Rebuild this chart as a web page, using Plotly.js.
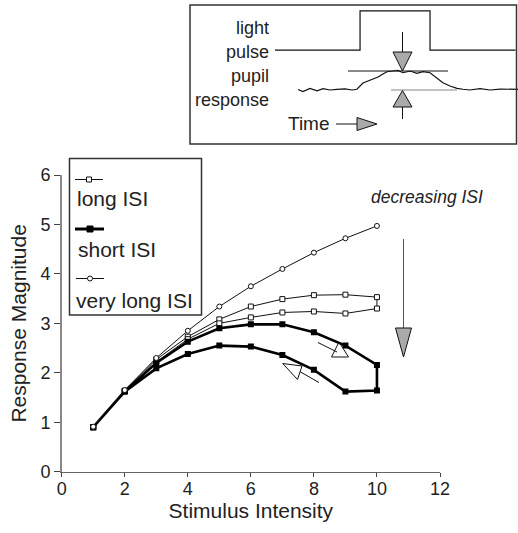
<!DOCTYPE html>
<html>
<head>
<meta charset="utf-8">
<script src="https://cdn.plot.ly/plotly-3.0.1.min.js"></script>
<style>html,body{margin:0;padding:0;background:#fff;}#chart{width:518px;height:533px;}</style>
</head>
<body>
<div id="chart"></div>
<script>
// ---- Main chart data ----
const intensityUp = [1, 2, 3, 4, 5, 6, 7, 8, 9, 10];
const intensityDown = [10, 9, 8, 7, 6, 5, 4, 3, 2, 1];
const veryLongISI = [0.91, 1.65, 2.30, 2.85, 3.34, 3.75, 4.10, 4.43, 4.72, 4.97];
const longISIUp = [0.90, 1.64, 2.27, 2.73, 3.08, 3.34, 3.49, 3.57, 3.58, 3.53];
const longISIDown = [3.30, 3.20, 3.24, 3.22, 3.12, 3.00, 2.68, 2.22, 1.62, 0.90];
const shortISIUp = [0.90, 1.63, 2.20, 2.63, 2.90, 2.98, 2.98, 2.82, 2.55, 2.16];
const shortISIDown = [1.64, 1.62, 2.06, 2.36, 2.53, 2.55, 2.38, 2.09, 1.62, 0.90];
const seriesNames = ["long ISI", "short ISI", "very long ISI"];
const xTicks = [0, 2, 4, 6, 8, 10, 12];
const yTicks = [0, 1, 2, 3, 4, 5, 6];

// ---- Inset schematic data (time in arbitrary units) ----
const pulseTime = [0, 35, 35, 63.8, 63.8, 99];
const pulseLevel = [2.1, 2.1, 4.16, 4.16, 2.1, 2.1];
const pupilTime = [9.5, 11.5, 14.4, 17.3, 19.8, 22.6, 25.5, 28.8, 31.7, 33.7, 36.2, 39.1, 42.4, 44.4, 46.1, 48.6, 50.6, 52.7, 55.6, 58.4, 60.9, 63.8, 66.7, 69.1, 72, 74.9, 77.4, 80.2, 84.4, 88.5, 92.6, 96.7, 100];
const pupilLevel = [0.03, -0.08, 0.08, -0.04, 0.07, 0, 0.03, 0.06, 0, 0.04, 0.37, 0.53, 0.68, 0.84, 0.96, 1.0, 1.03, 0.91, 1.0, 0.88, 0.97, 0.91, 0.62, 0.38, 0.21, 0.09, 0.04, 0, 0.07, 0, 0.05, 0.04, 0.03];

const W = 518, H = 533;
const FONT = '"Liberation Sans", Arial, Helvetica, sans-serif';
const px = x => x / W;
const py = y => 1 - y / H;
const P = (x, y) => px(x) + ',' + py(y);
const tri = (a, b, c) => 'M' + P(a[0], a[1]) + ' L' + P(b[0], b[1]) + ' L' + P(c[0], c[1]) + ' Z';

const traces = [
  {
    name: seriesNames[0],
    x: intensityUp.concat(intensityDown),
    y: longISIUp.concat(longISIDown),
    mode: 'lines+markers',
    line: {color: '#111', width: 1},
    marker: {symbol: 'square', size: 5, color: '#fff', line: {color: '#111', width: 1}},
    showlegend: false, xaxis: 'x', yaxis: 'y'
  },
  {
    name: seriesNames[1],
    x: intensityUp.concat(intensityDown),
    y: shortISIUp.concat(shortISIDown),
    mode: 'lines+markers',
    line: {color: '#000', width: 2.6},
    marker: {symbol: 'square', size: 6, color: '#000'},
    showlegend: false, xaxis: 'x', yaxis: 'y'
  },
  {
    name: seriesNames[2],
    x: intensityUp,
    y: veryLongISI,
    mode: 'lines+markers',
    line: {color: '#111', width: 1},
    marker: {symbol: 'circle', size: 5, color: '#fff', line: {color: '#111', width: 1}},
    showlegend: false, xaxis: 'x', yaxis: 'y'
  },
  {
    name: 'light pulse',
    x: pulseTime, y: pulseLevel,
    mode: 'lines', line: {color: '#111', width: 1.2},
    showlegend: false, xaxis: 'x2', yaxis: 'y2', hoverinfo: 'skip'
  },
  {
    name: 'pupil response',
    x: pupilTime, y: pupilLevel,
    mode: 'lines', line: {color: '#111', width: 1.2},
    showlegend: false, xaxis: 'x2', yaxis: 'y2', hoverinfo: 'skip'
  }
];

const ln = (x0, y0, x1, y1, color, width) => ({
  type: 'line', xref: 'paper', yref: 'paper',
  x0: px(x0), y0: py(y0), x1: px(x1), y1: py(y1),
  line: {color: color || '#111', width: width || 1}
});
const path = (d, fill, color) => ({
  type: 'path', xref: 'paper', yref: 'paper', path: d,
  fillcolor: fill, line: {color: color || '#111', width: 1}
});

const shapes = [
  // inset frame
  {type: 'rect', xref: 'paper', yref: 'paper', x0: px(190), x1: px(516.5), y0: py(144), y1: py(5),
   line: {color: '#333', width: 1.5}, fillcolor: 'rgba(0,0,0,0)'},
  // inset reference lines
  ln(348, 71, 448, 71, '#111', 1),
  ln(391, 90, 457, 90, '#888', 1),
  // inset down arrow
  ln(402.5, 32, 402.5, 52, '#111', 1),
  path(tri([393, 52], [412, 52], [402.5, 71]), '#aaa'),
  // inset up arrow
  path(tri([393, 107], [412, 107], [402.5, 90.5]), '#aaa'),
  ln(402.5, 107, 402.5, 119, '#111', 1),
  // Time arrow
  ln(336, 124, 357, 124, '#111', 1),
  path(tri([357, 117.5], [357, 130.5], [377, 124]), '#aaa'),
  // decreasing ISI arrow
  ln(403.5, 239, 403.5, 328, '#555', 1),
  path(tri([395.5, 328], [411.5, 328], [403.5, 357]), '#aaa'),
  // hollow arrows on short ISI loop
  path(tri([339, 342], [331.5, 357], [348.5, 357]), 'rgba(0,0,0,0)'),
  ln(318, 342.5, 337, 352, '#111', 1),
  path(tri([282.7, 363.5], [302, 366], [297.5, 379.5]), 'rgba(0,0,0,0)'),
  ln(300, 371.7, 319, 382.5, '#111', 1),
  // legend frame
  {type: 'rect', xref: 'paper', yref: 'paper', x0: px(69.5), x1: px(201.5), y0: py(315), y1: py(158.5),
   line: {color: '#333', width: 1.5}, fillcolor: '#fff'},
  // legend samples
  ln(75, 179.5, 103, 179.5, '#111', 1),
  {type: 'rect', xref: 'paper', yref: 'paper', x0: px(86.5), x1: px(91.5), y0: py(182), y1: py(177),
   line: {color: '#111', width: 1}, fillcolor: '#fff'},
  ln(75, 229, 104, 229, '#000', 3),
  {type: 'rect', xref: 'paper', yref: 'paper', x0: px(87), x1: px(93), y0: py(232), y1: py(226),
   line: {color: '#000', width: 1}, fillcolor: '#000'},
  ln(76, 278.5, 104, 278.5, '#111', 1),
  {type: 'circle', xref: 'paper', yref: 'paper', x0: px(87.5), x1: px(92.5), y0: py(281), y1: py(276),
   line: {color: '#111', width: 1}, fillcolor: '#fff'}
];

const ann = (text, x, y, xanchor, size, extra) => Object.assign({
  text: text, xref: 'paper', yref: 'paper', x: px(x), y: py(y),
  xanchor: xanchor, yanchor: 'middle', showarrow: false,
  font: {family: FONT, size: size, color: '#222'}
}, extra || {});

const annotations = [
  ann('light', 271, 28, 'right', 18),
  ann('pulse', 271, 52, 'right', 18),
  ann('pupil', 271, 76, 'right', 18),
  ann('response', 271, 100, 'right', 18),
  ann('Time', 332, 123, 'right', 19),
  ann('<i>decreasing ISI</i>', 427, 197, 'center', 17.5),
  ann(seriesNames[0], 75, 198, 'left', 21),
  ann(seriesNames[1], 76, 249, 'left', 21),
  ann(seriesNames[2], 74, 300, 'left', 21)
];

const layout = {
  width: W, height: H,
  margin: {l: 0, r: 0, t: 0, b: 0},
  paper_bgcolor: '#fff', plot_bgcolor: 'rgba(0,0,0,0)',
  font: {family: FONT, color: '#222'},
  xaxis: {
    domain: [px(61.7), px(440)], range: [0, 12], tickvals: xTicks,
    ticks: 'outside', ticklen: 4, tickcolor: '#444', tickwidth: 1,
    ticklabelstandoff: -4,
    showline: true, linecolor: '#666', linewidth: 1.5,
    showgrid: false, zeroline: false, automargin: false,
    tickfont: {family: FONT, size: 18, color: '#222'},
    title: {text: 'Stimulus Intensity', font: {family: FONT, size: 21, color: '#222'}, standoff: 3},
    anchor: 'y', fixedrange: true
  },
  yaxis: {
    domain: [py(471.7), py(175)], range: [0, 6], tickvals: yTicks,
    ticks: 'outside', ticklen: 6, tickcolor: '#444', tickwidth: 1,
    showline: true, linecolor: '#888', linewidth: 1.5,
    showgrid: false, zeroline: false, automargin: false,
    tickfont: {family: FONT, size: 18, color: '#222'},
    title: {text: 'Response Magnitude', font: {family: FONT, size: 21, color: '#222'}, standoff: 8},
    anchor: 'x', fixedrange: true
  },
  xaxis2: {domain: [px(275), px(518)], range: [0, 100], visible: false, anchor: 'y2', fixedrange: true},
  yaxis2: {domain: [py(144), py(4)], range: [-2.842, 4.526], visible: false, anchor: 'x2', fixedrange: true},
  shapes: shapes,
  annotations: annotations
};

Plotly.newPlot('chart', traces, layout, {displayModeBar: false, staticPlot: true});
</script>
</body>
</html>
